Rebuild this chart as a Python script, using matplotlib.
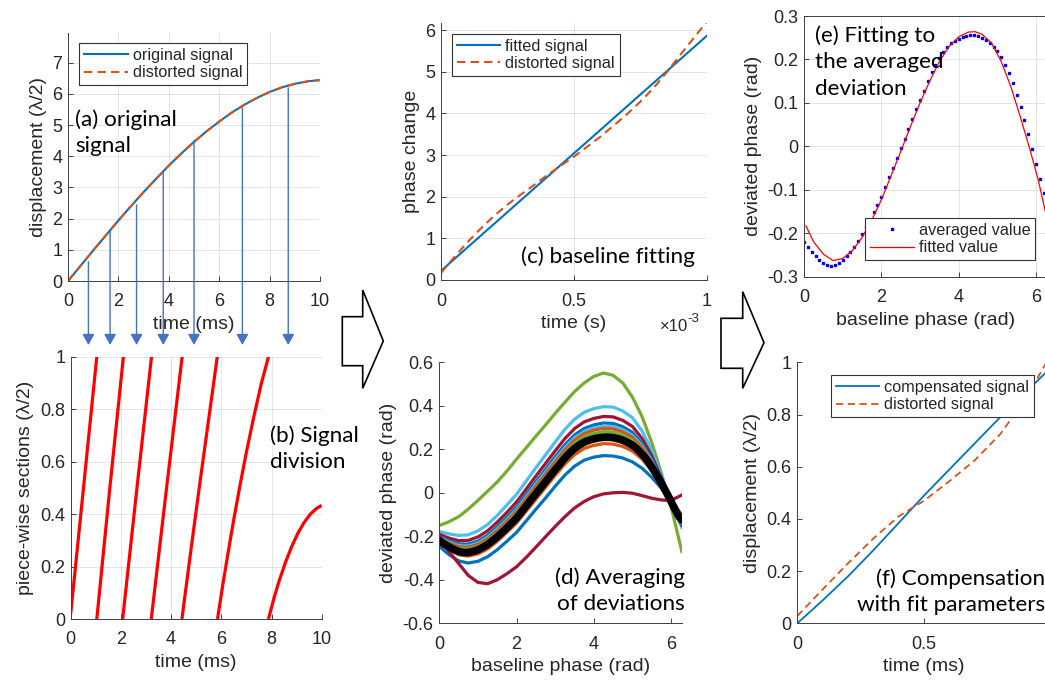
import numpy as np
import matplotlib
matplotlib.use('Agg')
import matplotlib.pyplot as plt
from matplotlib.patches import Polygon
from matplotlib.ticker import FuncFormatter

plt.rcParams['font.family'] = ['Liberation Sans', 'DejaVu Sans']
plt.rcParams['axes.unicode_minus'] = False

W, H = 1045, 680

# ---------------- data ----------------
# (a) displacement in lambda/2 vs time (ms)
t_a = [0, 0.5, 1.0, 1.5, 2.0, 2.5, 3.0, 3.5, 4.0, 4.5, 5.0,
       5.5, 6.0, 6.5, 7.0, 7.5, 8.0, 8.5, 9.0, 9.5, 10.0]
disp_orig = [0, 0.49, 0.98, 1.46, 1.94, 2.40, 2.85, 3.28, 3.70, 4.09, 4.46,
             4.80, 5.11, 5.40, 5.65, 5.87, 6.06, 6.21, 6.32, 6.40, 6.44]
disp_dist = [0, 0.49, 0.98, 1.46, 1.94, 2.40, 2.85, 3.28, 3.70, 4.09, 4.46,
             4.80, 5.11, 5.40, 5.65, 5.87, 6.06, 6.21, 6.32, 6.40, 6.44]
arrow_t = [0.81, 1.67, 2.72, 3.78, 5.0, 6.92, 8.74]
arrow_top = [0.62, 1.59, 2.44, 3.52, 4.5, 5.55, 6.19]

# (b) piece-wise sections
sec_t = [[0, 0.52, 1.04],
         [1.04, 1.57, 2.10],
         [2.07, 2.64, 3.22],
         [3.21, 3.82, 4.44],
         [4.43, 4.8, 5.12, 5.48, 5.84],
         [5.85, 6.05, 6.25, 6.5, 6.75, 7.0, 7.3, 7.6, 7.88],
         [7.88, 8.1, 8.3, 8.55, 8.8, 9.05, 9.3, 9.55, 9.8, 10.0]]
sec_y = [[0.02, 0.51, 1.0],
         [0, 0.51, 1.0],
         [0, 0.5, 1.0],
         [0, 0.5, 1.0],
         [0, 0.27, 0.5, 0.75, 1.0],
         [0, 0.125, 0.241, 0.381, 0.512, 0.636, 0.773, 0.900, 1.0],
         [0, 0.08, 0.144, 0.214, 0.275, 0.327, 0.368, 0.400, 0.422, 0.433]]

# (c) phase change vs time (x1e-3 s)
t_c = [0, 0.05, 0.1, 0.15, 0.2, 0.25, 0.3, 0.35, 0.4, 0.45, 0.5,
       0.55, 0.6, 0.65, 0.7, 0.75, 0.8, 0.85, 0.9, 0.95, 1.0]
phase_dist = [0.17, 0.55, 0.91, 1.24, 1.54, 1.81, 2.05, 2.28, 2.52, 2.74, 2.96,
              3.20, 3.44, 3.71, 3.98, 4.28, 4.61, 4.99, 5.40, 5.80, 6.20]
t_c_fit = [0, 1.0]
phase_fit = [0.22, 5.86]

# (d) deviated phase of each section vs baseline phase
x_d = np.append(np.arange(0, 6.1, 0.25), 6.28)
dev_green = [-0.150, -0.133, -0.110, -0.075, -0.035, 0.007, 0.050, 0.100, 0.155, 0.207, 0.260, 0.312, 0.365,
             0.416, 0.465, 0.505, 0.535, 0.551, 0.540, 0.505, 0.440, 0.350, 0.230, 0.090, -0.064, -0.270]
dev_lblue = [-0.178, -0.189, -0.196, -0.193, -0.175, -0.146, -0.104, -0.056, -0.007, 0.054, 0.115, 0.174, 0.234,
             0.291, 0.338, 0.370, 0.387, 0.396, 0.394, 0.376, 0.345, 0.284, 0.195, 0.082, -0.047, -0.160]
dev_dred1 = [-0.191, -0.208, -0.220, -0.219, -0.203, -0.175, -0.135, -0.090, -0.042, 0.017, 0.077, 0.135, 0.193,
             0.249, 0.295, 0.326, 0.342, 0.351, 0.349, 0.333, 0.305, 0.250, 0.170, 0.070, -0.045, -0.149]
dev_blue1 = [-0.200, -0.221, -0.235, -0.236, -0.222, -0.195, -0.156, -0.112, -0.065, -0.007, 0.051, 0.108, 0.166,
             0.221, 0.266, 0.296, 0.312, 0.321, 0.319, 0.304, 0.278, 0.227, 0.154, 0.062, -0.043, -0.141]
dev_lblue2 = [-0.205, -0.227, -0.243, -0.245, -0.231, -0.205, -0.167, -0.123, -0.077, -0.019, 0.039, 0.095, 0.153,
              0.207, 0.252, 0.282, 0.298, 0.306, 0.304, 0.290, 0.264, 0.216, 0.146, 0.058, -0.043, -0.138]
dev_orange1 = [-0.208, -0.231, -0.248, -0.251, -0.237, -0.212, -0.174, -0.130, -0.085, -0.027, 0.030, 0.086, 0.143,
               0.197, 0.242, 0.272, 0.288, 0.296, 0.294, 0.280, 0.255, 0.208, 0.140, 0.055, -0.042, -0.135]
dev_green2 = [-0.212, -0.237, -0.256, -0.259, -0.246, -0.221, -0.184, -0.141, -0.096, -0.040, 0.017, 0.073, 0.130,
              0.183, 0.228, 0.257, 0.273, 0.281, 0.279, 0.266, 0.242, 0.197, 0.132, 0.051, -0.041, -0.131]
dev_yellow = [-0.224, -0.253, -0.275, -0.281, -0.269, -0.246, -0.210, -0.169, -0.125, -0.070, -0.014, 0.040, 0.096,
              0.149, 0.192, 0.221, 0.236, 0.244, 0.242, 0.230, 0.208, 0.169, 0.111, 0.041, -0.039, -0.122]
dev_orange2 = [-0.229, -0.261, -0.285, -0.291, -0.281, -0.258, -0.223, -0.182, -0.139, -0.084, -0.030, 0.025, 0.080,
               0.132, 0.175, 0.204, 0.218, 0.226, 0.224, 0.213, 0.192, 0.155, 0.101, 0.036, -0.038, -0.117]
dev_blue2 = [-0.246, -0.284, -0.313, -0.323, -0.315, -0.294, -0.262, -0.223, -0.182, -0.129, -0.076, -0.024, 0.030,
             0.081, 0.122, 0.150, 0.164, 0.171, 0.169, 0.160, 0.142, 0.113, 0.071, 0.021, -0.036, -0.104]
dev_dred2 = [-0.195, -0.270, -0.325, -0.380, -0.412, -0.418, -0.400, -0.372, -0.340, -0.297, -0.250, -0.202, -0.155,
             -0.110, -0.070, -0.040, -0.018, -0.005, 0.000, 0.002, -0.002, -0.013, -0.025, -0.033, -0.035, -0.010]
dev_curves = [dev_green, dev_lblue, dev_dred1, dev_blue1, dev_lblue2, dev_orange1,
              dev_green2, dev_yellow, dev_orange2, dev_blue2, dev_dred2]
dev_colors = ['#77AC30', '#4DBEEE', '#A2142F', '#0072BD', '#4DBEEE', '#D95319',
              '#77AC30', '#EDB120', '#D95319', '#0072BD', '#A2142F']

# (e) averaged deviation and its fit
x_avg = np.append(np.arange(0, 6.25, 0.1), 6.28)
avg_dev = [-0.220, -0.232, -0.243, -0.253, -0.262, -0.269, -0.274, -0.275, -0.273, -0.268,
           -0.262, -0.253, -0.243, -0.231, -0.217, -0.202, -0.186, -0.169, -0.152, -0.134,
           -0.116, -0.094, -0.071, -0.049, -0.026, -0.004, 0.018, 0.040, 0.062, 0.085,
           0.107, 0.128, 0.150, 0.170, 0.188, 0.204, 0.217, 0.228, 0.237, 0.243,
           0.248, 0.252, 0.255, 0.256, 0.256, 0.254, 0.250, 0.245, 0.238, 0.229,
           0.219, 0.205, 0.187, 0.168, 0.145, 0.118, 0.090, 0.060, 0.028, -0.005,
           -0.040, -0.075, -0.108, -0.125]
x_fit = [0.05, 0.25, 0.5, 0.75, 1.0, 1.25, 1.5, 1.75, 2.0, 2.25, 2.5, 2.75, 3.0, 3.25,
         3.5, 3.75, 4.0, 4.25, 4.42, 4.6, 4.85, 5.1, 5.35, 5.6, 5.85, 6.05, 6.28]
fit_dev = [-0.183, -0.220, -0.248, -0.263, -0.258, -0.240, -0.210, -0.170, -0.123,
           -0.068, -0.012, 0.045, 0.100, 0.150, 0.195, 0.230, 0.252, 0.263, 0.264,
           0.258, 0.238, 0.195, 0.137, 0.066, -0.010, -0.075, -0.165]

# (f) compensated vs distorted displacement
t_f = [0, 0.1, 0.2, 0.3, 0.4, 0.5, 0.6, 0.7, 0.8, 0.9, 1.0]
disp_comp = [0, 0.088, 0.180, 0.280, 0.385, 0.490, 0.590, 0.690, 0.790, 0.885, 0.98]
disp_dist_f = [0.028, 0.13, 0.23, 0.325, 0.41, 0.47, 0.545, 0.625, 0.725, 0.86, 1.03]

BLUE = '#0072BD'
ORANGE = '#D95319'
TXT = '#262626'

fig = plt.figure(figsize=(W / 100, H / 100), dpi=100)


def add_ax(l, t, r, b):
    return fig.add_axes([l / W, 1 - b / H, (r - l) / W, (b - t) / H])


def style(ax, grid=True, box=False):
    ax.tick_params(direction='in', length=3.5, width=0.6, colors=TXT, labelsize=13)
    ax.tick_params(axis='x', pad=9)
    ax.tick_params(axis='y', pad=4)
    for sp in ax.spines.values():
        sp.set_color('#404040')
        sp.set_linewidth(0.7)
    if not box:
        ax.spines['top'].set_visible(False)
        ax.spines['right'].set_visible(False)
    if grid:
        ax.grid(True, color='black', alpha=0.1, lw=0.7)
    ax.set_axisbelow(True)
    fmt = FuncFormatter(lambda v, p: '%g' % round(v, 6))
    ax.xaxis.set_major_formatter(fmt)
    ax.yaxis.set_major_formatter(fmt)


def labels(ax, xl, yl, xpad=4, ypad=4):
    ax.set_xlabel(xl, fontsize=14, color=TXT, labelpad=xpad)
    ax.set_ylabel(yl, fontsize=14, color=TXT, labelpad=ypad)


def legend_at(ax, x, y, **kw):
    leg = ax.legend(loc='upper left', bbox_to_anchor=(x / W, 1 - y / H),
                    bbox_transform=fig.transFigure, borderaxespad=0, fancybox=False,
                    framealpha=1, edgecolor='#333333', fontsize=11.7, handlelength=2.7,
                    handletextpad=0.3, borderpad=0.3, labelspacing=0.15, **kw)
    leg.get_frame().set_linewidth(0.8)
    for txt in leg.get_texts():
        txt.set_color(TXT)


def note(x, y, s, ha='left'):
    fig.text(x / W, 1 - y / H, s, ha=ha, va='top', multialignment=ha,
             fontsize=16.2, family=['Lato', 'DejaVu Sans'], linespacing=1.42, color='black')


# ---- (a) ----
ax_a = add_ax(68, 33, 320, 281)
style(ax_a)
ax_a.plot(t_a, disp_orig, color=BLUE, lw=1.5, label='original signal')
ax_a.plot(t_a, disp_dist, color=ORANGE, lw=1.5, ls=(0, (4, 2.5)), label='distorted signal')
ax_a.set_xlim(0, 10)
ax_a.set_ylim(0, 7.95)
ax_a.set_xticks(range(0, 11, 2))
ax_a.set_yticks(range(0, 8))
labels(ax_a, 'time (ms)', 'displacement (λ/2)')
legend_at(ax_a, 79, 43)
for t, top in zip(arrow_t, arrow_top):
    ax_a.annotate('', xy=(t, H - 345), xycoords=('data', 'figure pixels'),
                  xytext=(t, top), textcoords='data', annotation_clip=False,
                  arrowprops=dict(arrowstyle='-|>,head_length=0.65,head_width=0.36',
                                  color='#4472C4', lw=1.0, shrinkA=0, shrinkB=0))

# ---- (b) ----
ax_b = add_ax(70.7, 356.7, 321.7, 619)
style(ax_b)
for st, sy in zip(sec_t, sec_y):
    ax_b.plot(st, sy, color='#FF0000', lw=2.3, solid_capstyle='butt')
ax_b.set_xlim(0, 10)
ax_b.set_ylim(0, 1)
ax_b.set_xticks(range(0, 11, 2))
ax_b.set_yticks(np.arange(0, 1.01, 0.2))
labels(ax_b, 'time (ms)', 'piece-wise sections (λ/2)', ypad=4)

# ---- (c) ----
ax_c = add_ax(441, 23, 706.7, 280)
style(ax_c)
ax_c.plot(np.array(t_c_fit) * 1e-3, phase_fit, color=BLUE, lw=1.5, label='fitted signal')
ax_c.plot(np.array(t_c) * 1e-3, phase_dist, color=ORANGE, lw=1.5, ls=(0, (4, 2.5)),
          label='distorted signal')
ax_c.set_xlim(0, 1e-3)
ax_c.set_ylim(0, 6.17)
ax_c.set_xticks([0, 0.5e-3, 1e-3])
ax_c.xaxis.set_major_formatter(FuncFormatter(lambda v, p: '%g' % round(v * 1e3, 6)))
ax_c.set_yticks(range(0, 7))
labels(ax_c, 'time (s)', 'phase change')
legend_at(ax_c, 451.7, 33.7)
fig.text(660 / W, 1 - 331 / H, '×10', fontsize=12, color=TXT, ha='left', va='baseline')
fig.text(687 / W, 1 - 322 / H, '-3', fontsize=9.5, color=TXT, ha='left', va='baseline')

# ---- (d) ----
ax_d = add_ax(439.3, 362.3, 682, 623.3)
style(ax_d, grid=False)
for cv, col in zip(dev_curves, dev_colors):
    ax_d.plot(x_d, cv, color=col, lw=2.3)
ax_d.plot(x_avg, avg_dev, color='black', lw=5.5, solid_capstyle='round')
ax_d.set_xlim(0, 2 * np.pi)
ax_d.set_ylim(-0.6, 0.6)
ax_d.set_xticks([0, 2, 4, 6])
ax_d.set_yticks(np.arange(-0.6, 0.61, 0.2))
labels(ax_d, 'baseline phase (rad)', 'deviated phase (rad)')

# ---- (e) ----
ax_e = add_ax(804, 16, 1047, 276.7)
style(ax_e, box=True)
ax_e.plot(x_avg, avg_dev, ls='none', marker='s', ms=1.9, color='#0000FF',
          label='averaged value')
ax_e.plot(x_fit, fit_dev, color='#FF0000', lw=0.9, label='fitted value')
ax_e.set_xlim(0, 2 * np.pi)
ax_e.set_ylim(-0.3, 0.3)
ax_e.set_xticks([0, 2, 4, 6])
ax_e.set_yticks(np.arange(-0.3, 0.31, 0.1))
labels(ax_e, 'baseline phase (rad)', 'deviated phase (rad)')
legend_at(ax_e, 865, 218, numpoints=1)

# ---- (f) ----
ax_f = add_ax(797.3, 362.3, 1051, 623.3)
style(ax_f, grid=False)
ax_f.plot(t_f, disp_comp, color=BLUE, lw=1.3, label='compensated signal')
ax_f.plot(t_f, disp_dist_f, color=ORANGE, lw=1.3, ls=(0, (4, 2.5)), label='distorted signal')
ax_f.set_xlim(0, 1)
ax_f.set_ylim(0, 1)
ax_f.set_xticks([0, 0.5, 1])
ax_f.set_yticks(np.arange(0, 1.01, 0.2))
labels(ax_f, 'time (ms)', 'displacement (λ/2)')
legend_at(ax_f, 830.7, 375)

# ---- panel notes ----
note(75, 109, '(a) original\nsignal')
note(270, 425, '(b) Signal\ndivision')
note(608, 246, '(c) baseline fitting', ha='center')
note(685, 567, '(d) Averaging\nof deviations', ha='right')
note(815, 25, '(e) Fitting to\nthe averaged\ndeviation')
note(1045, 568, '(f) Compensation\nwith fit parameters', ha='right')

# ---- block arrows between columns ----
arrow_shapes = [
    [(342.3, 316.7), (362.7, 316.7), (362.7, 290), (383.3, 341), (362.7, 388.3),
     (362.7, 365.7), (342.3, 365.7)],
    [(721, 318.3), (742.7, 318.3), (742.7, 291.7), (764, 342.7), (742.7, 388.3),
     (742.7, 368.3), (721, 368.3)],
]
for shape in arrow_shapes:
    pts = [(x / W, 1 - y / H) for x, y in shape]
    fig.add_artist(Polygon(pts, closed=True, transform=fig.transFigure,
                           facecolor='white', edgecolor='black', lw=1.2, zorder=5))

fig.savefig('out.png', dpi=100)
